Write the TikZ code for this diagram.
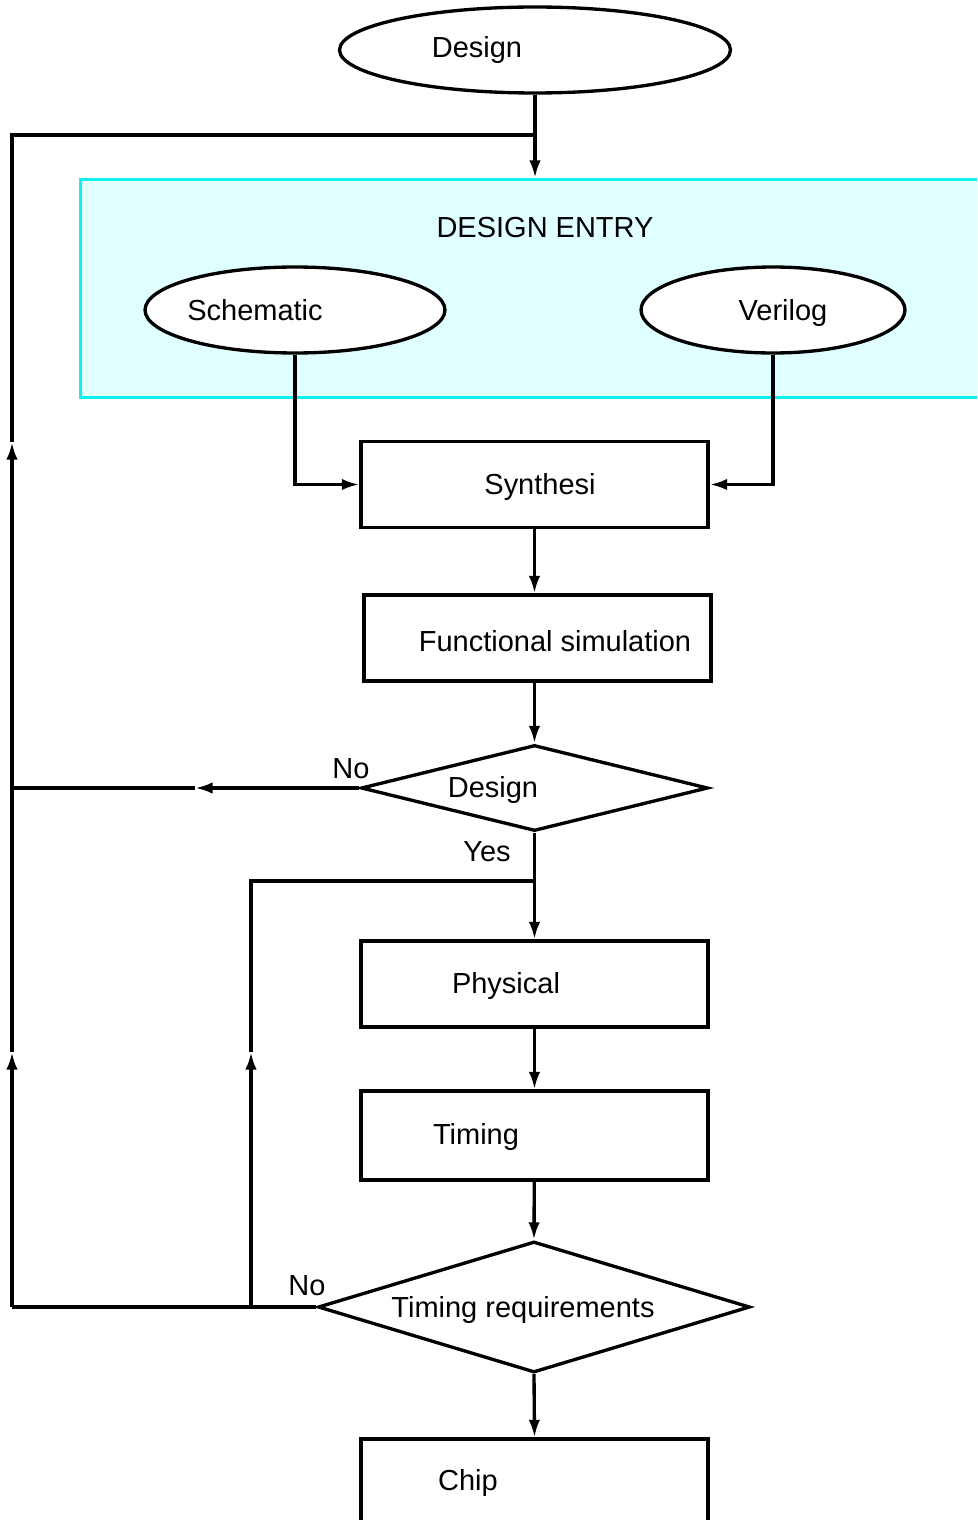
\documentclass[tikz,border=0pt]{standalone}
\usepackage{fontspec}
\setmainfont{Liberation Sans}
\usetikzlibrary{shapes.geometric,arrows.meta}
\definecolor{entryfill}{HTML}{E0FFFF}
\definecolor{entryline}{HTML}{10F0F0}

\begin{document}
\begin{tikzpicture}[x=0.02cm,y=-0.02cm,line width=1.9pt,
  txt/.style={font=\fontsize{16.5}{19}\selectfont,inner sep=0pt},
  box/.style={rectangle,draw,fill=white,minimum width=6.94cm,minimum height=1.72cm,inner sep=0pt},
  oval/.style={ellipse,draw,fill=white,minimum height=1.72cm,inner sep=0pt},
  decide/.style={diamond,draw,fill=white,inner sep=0pt},
  arr/.style={-{Latex[length=10pt,width=6.5pt]}}]
\clip (0,0) rectangle (977,1520);

% shapes
\node[oval,minimum width=7.82cm] (dsgn) at (535,50) {};
\node[rectangle,draw=entryline,fill=entryfill,line width=1.8pt,anchor=north west,
  minimum width=18.6cm,minimum height=4.36cm,inner sep=0pt] (entry) at (79,178) {};
\node[oval,minimum width=6cm] (schem) at (295,310) {};
\node[oval,minimum width=5.28cm] (veri) at (773,310) {};
\node[box] (synth) at (534.5,484.5) {};
\node[box] (funcsim) at (537.5,638) {};
\node[decide,minimum width=6.94cm,minimum height=1.72cm] (chkdesign) at (534.5,788) {};
\node[box] (phys) at (534.5,984) {};
\node[box,minimum height=1.78cm] (timing) at (534.5,1135.5) {};
\node[decide,minimum width=8.64cm,minimum height=2.62cm] (chktiming) at (534,1307) {};
\node[box] (chip) at (534.5,1482) {};

% texts
\node[txt] (tdsgn) at (477,50) {Design};
\node[txt] (tentry) at (545,228) {DESIGN ENTRY};
\node[txt] (tschem) at (255,310) {Schematic};
\node[txt] (tveri) at (783,313) {Verilog};
\node[txt] (tsynth) at (540,487) {Synthesi};
\node[txt] (tfunc) at (555,641) {Functional simulation};
\node[txt] (tchk) at (493,790) {Design};
\node[txt] (tno1) at (351,769) {No};
\node[txt] (tyes) at (487,852) {Yes};
\node[txt] (tphys) at (506,986) {Physical};
\node[txt] (ttime) at (476,1137) {Timing};
\node[txt] (treq) at (523,1310) {Timing requirements};
\node[txt] (tno2) at (307,1286) {No};
\node[txt] (tchip) at (468,1483) {Chip};

% bend points
\coordinate (j1) at (537,135);
\coordinate (f1) at (12,135);
\coordinate (f2) at (12,442);
\coordinate (f3) at (12,1052);
\coordinate (n1) at (195,788);
\coordinate (n2) at (12,788);
\coordinate (g2) at (251,1052);
\coordinate (g3) at (251,881);
\coordinate (g4) at (536,881);
\coordinate (g1) at (251,1305);

% connectors
\draw[arr] (dsgn.south) -- (dsgn.south |- entry.north);
\draw[arr] (schem.south) |- (synth.west);
\draw[arr] (veri.south) |- (synth.east);
\draw[arr] (synth) -- (funcsim.north -| synth.south);
\draw[arr] (funcsim.south -| synth.south) -- (chkdesign.north);
\draw[arr] (chkdesign.south) -- (phys.north);
\draw[arr] (phys) -- (timing);
\draw[arr] (timing) -- (chktiming.north);
\draw[arr] (chktiming.south) -- (chip.north);

% design loop
\draw[arr] (chkdesign.west) -- (n1);
\draw (n1) -- (n2);

% timing loops
\draw (chktiming.west) -- (chktiming.west -| f3) coordinate (f4);
\draw[arr] (f4) -- (f3);
\draw[arr] (f3) -- (f2);
\draw (f2) -- (f1) -- (j1);
\draw[arr] (g1) -- (g2);
\draw (g2) -- (g3) -- (g4);
\end{tikzpicture}
\end{document}
